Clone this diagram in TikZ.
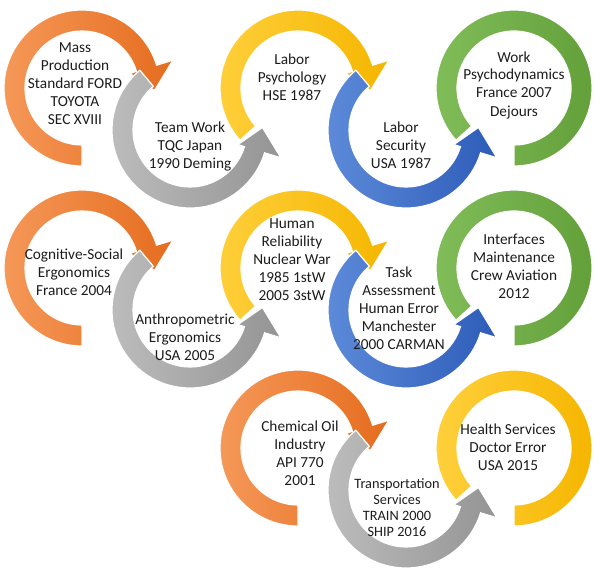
\documentclass[tikz,border=0pt]{standalone}
\usepackage{fontspec}
\setmainfont{Carlito}
\definecolor{orL}{RGB}{245,152,88}
\definecolor{orR}{RGB}{229,108,30}
\definecolor{grL}{RGB}{190,190,190}
\definecolor{grR}{RGB}{148,148,148}
\definecolor{yeL}{RGB}{255,208,60}
\definecolor{yeR}{RGB}{245,182,0}
\definecolor{blL}{RGB}{95,140,218}
\definecolor{blR}{RGB}{45,92,185}
\definecolor{gnL}{RGB}{128,188,88}
\definecolor{gnR}{RGB}{100,160,58}
\definecolor{txt}{RGB}{28,28,28}
\tikzset{
  ringbase/.style={draw=white, line width=1.2pt},
  orangering/.style={ringbase, left color=orL, right color=orR},
  grayring/.style={ringbase, left color=grL, right color=grR},
  yellowring/.style={ringbase, left color=yeL, right color=yeR},
  bluering/.style={ringbase, left color=blL, right color=blR},
  greenring/.style={ringbase, left color=gnL, right color=gnR},
  lbl/.style={align=center, inner sep=0pt, text=txt, font=\fontsize{15.3}{18}\selectfont},
  pics/cwfull/.style={code={
    \shade[pic actions] (270:78) arc[start angle=270,end angle=17,radius=78]
      -- (17:95) -- (-2:72.5) -- (17:50) -- (17:57)
      arc[start angle=17,end angle=270,radius=57] -- cycle;}},
  pics/cwcut/.style={code={
    \shade[pic actions] (222:78) arc[start angle=222,end angle=17,radius=78]
      -- (17:95) -- (-2:72.5) -- (17:50) -- (17:57)
      arc[start angle=17,end angle=222,radius=57] -- cycle;}},
  pics/ccwarc/.style={code={
    \shade[pic actions] (130:78) arc[start angle=130,end angle=343,radius=78]
      -- (343:95) -- (2:72.5) -- (343:50) -- (343:57)
      arc[start angle=343,end angle=130,radius=57] -- cycle;}},
  pics/endring/.style={code={
    \shade[pic actions] (-90:78) arc[start angle=-90,end angle=222,radius=78]
      -- (222:57) arc[start angle=222,end angle=-90,radius=57] -- cycle;}},
}
\begin{document}
\begin{tikzpicture}[x=1pt,y=1pt]
\useasboundingbox (0,0) rectangle (600,-575);
% row 1
\pic[orangering] at (82,-88) {cwfull};
\pic[grayring] at (190,-130) {ccwarc};
\pic[yellowring] at (298,-88) {cwcut};
\pic[bluering] at (406,-130) {ccwarc};
\pic[greenring] at (514,-88) {endring};
% row 2
\pic[orangering] at (82,-268) {cwfull};
\pic[grayring] at (190,-310) {ccwarc};
\pic[yellowring] at (298,-268) {cwcut};
\pic[bluering] at (406,-310) {ccwarc};
\pic[greenring] at (514,-268) {endring};
% row 3
\pic[orangering] at (298,-448) {cwfull};
\pic[grayring] at (406,-490) {ccwarc};
\pic[yellowring] at (514,-448) {endring};
% labels
\node[lbl] (t11) at (75,-84) {Mass\\Production\\Standard FORD\\TOYOTA\\SEC XVIII};
\node[lbl] (t12) at (190,-147) {Team Work\\TQC Japan\\1990 Deming};
\node[lbl] (t13) at (292,-77) {Labor\\Psychology\\HSE 1987};
\node[lbl] (t14) at (401,-145) {Labor\\Security\\USA 1987};
\node[lbl] (t15) at (514,-85) {Work\\Psychodynamics\\France 2007\\Dejours};
\node[lbl] (t21) at (74,-272) {Cognitive-Social\\Ergonomics\\France 2004};
\node[lbl] (t22) at (185,-337) {Anthropometric\\Ergonomics\\USA 2005};
\node[lbl] (t23) at (292,-260) {Human\\Reliability\\Nuclear War\\1985 1stW\\2005 3stW};
\node[lbl] (t24) at (399,-308) {Task\\Assessment\\Human Error\\Manchester\\2000 CARMAN};
\node[lbl] (t25) at (514,-266) {Interfaces\\Maintenance\\Crew Aviation\\2012};
\node[lbl] (t31) at (300,-453) {Chemical Oil\\Industry\\API 770\\2001};
\node[lbl, font=\fontsize{14.3}{16}\selectfont] (t32) at (397,-508) {Transportation\\Services\\TRAIN 2000\\SHIP 2016};
\node[lbl] (t33) at (508,-447) {Health Services\\Doctor Error\\USA 2015};
\end{tikzpicture}
\end{document}
